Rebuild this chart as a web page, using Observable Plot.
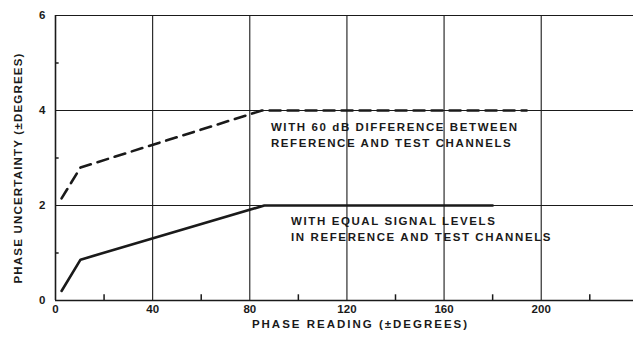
<!DOCTYPE html>
<html>
<head>
<meta charset="utf-8">
<script src="https://cdn.jsdelivr.net/npm/d3@7"></script>
<script src="https://cdn.jsdelivr.net/npm/@observablehq/plot@0.6"></script>
<style>
  html, body { margin: 0; padding: 0; background: #fff; }
  svg { font-family: "Liberation Sans", Arial, sans-serif; }
  .annot text, text.annot { letter-spacing: 1.6px; }
  .xttl text, text.xttl { letter-spacing: 2px; }
  .yttl text, text.yttl { letter-spacing: 1.2px; }
</style>
</head>
<body>
<div id="chart"></div>
<script>
// Data
const xTicks = [0, 40, 80, 120, 160, 200];
const xMinor = [20, 60, 100, 140, 180, 220];
const yTicks = [0, 2, 4, 6];
const yMinor = [1, 3, 5];

const equalX = [2.5, 10.3, 86, 180];
const equalY = [0.2, 0.86, 2.0, 2.0];

const diffX = [2.5, 10.3, 85, 194];
const diffY = [2.15, 2.8, 4.0, 4.0];

const annotDiff = ["WITH 60 dB DIFFERENCE BETWEEN", "REFERENCE AND TEST CHANNELS"];
const annotEqual = ["WITH EQUAL SIGNAL LEVELS", "IN REFERENCE AND TEST CHANNELS"];

const xTitle = "PHASE READING (±DEGREES)";
const yTitle = "PHASE UNCERTAINTY (±DEGREES)";

const equal = equalX.map((x, i) => ({x, y: equalY[i]}));
const diff = diffX.map((x, i) => ({x, y: diffY[i]}));

const ink = "#1a1a1a";

const chart = Plot.plot({
  width: 633,
  height: 341,
  marginLeft: 55,
  marginRight: 0,
  marginTop: 15,
  marginBottom: 41,
  x: {domain: [0, 238], axis: null},
  y: {domain: [0, 6], axis: null},
  style: {background: "#fff"},
  marks: [
    // grid
    Plot.ruleX(xTicks.filter(d => d > 0), {stroke: ink, strokeWidth: 1.1}),
    Plot.ruleY(yTicks.filter(d => d > 0), {stroke: ink, strokeWidth: 1.1}),
    // axes lines
    Plot.ruleX([0], {stroke: ink, strokeWidth: 1.6}),
    Plot.ruleY([0], {stroke: ink, strokeWidth: 1.6}),
    // minor ticks
    Plot.ruleX(xMinor, {y1: 0, y2: 0.12, stroke: ink, strokeWidth: 1.5}),
    Plot.ruleY(yMinor, {x1: 0, x2: 1.5, stroke: ink, strokeWidth: 1.5}),
    // tick labels
    Plot.text(xTicks, {x: d => d, frameAnchor: "bottom", dy: 12, text: d => String(d),
      fontSize: 11.5, fontWeight: "bold", fill: ink}),
    Plot.text(yTicks, {y: d => d, frameAnchor: "left", dx: -10, textAnchor: "end", text: d => String(d),
      fontSize: 11.5, fontWeight: "bold", fill: ink}),
    // curves
    Plot.line(equal, {x: "x", y: "y", stroke: ink, strokeWidth: 2.6}),
    Plot.line(diff, {x: "x", y: "y", stroke: ink, strokeWidth: 2.6, strokeDasharray: "11,7"}),
    // annotations
    Plot.text([annotDiff.join("\n")], {x: 88.7, y: 3.62, text: d => d, textAnchor: "start",
      lineHeight: 1.4, lineAnchor: "middle", dy: 5,
      fontSize: 11.5, fontWeight: "bold", fill: ink, className: "annot"}),
    Plot.text([annotEqual.join("\n")], {x: 97, y: 1.7, text: d => d, textAnchor: "start",
      lineHeight: 1.4, lineAnchor: "middle", dy: 8,
      fontSize: 11.5, fontWeight: "bold", fill: ink, className: "annot"}),
    // axis titles
    Plot.text([xTitle], {frameAnchor: "bottom", dx: 16, dy: 27, text: d => d,
      fontSize: 11.5, fontWeight: "bold", fill: ink, className: "xttl"}),
    Plot.text([yTitle], {frameAnchor: "left", textAnchor: "middle", dx: -37, dy: 10, rotate: -90, text: d => d,
      fontSize: 11.5, fontWeight: "bold", fill: ink, className: "yttl"})
  ]
});

document.getElementById("chart").appendChild(chart);
</script>
</body>
</html>
